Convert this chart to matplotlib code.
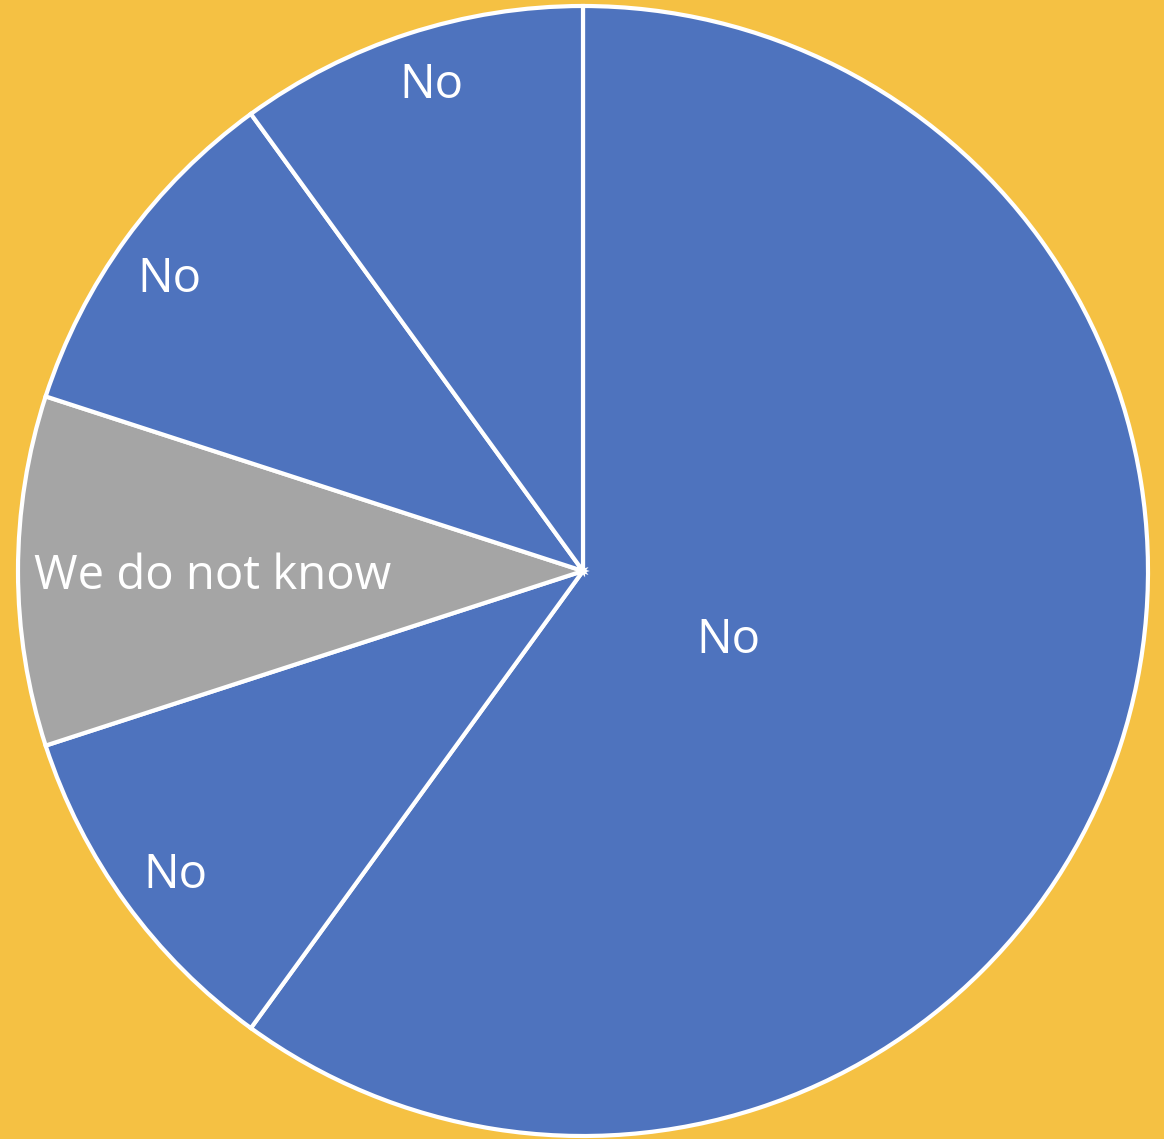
import numpy as np
import matplotlib.pyplot as plt

labels = ["No", "No", "We do not know", "No", "No"]
values = [60, 10, 10, 10, 10]
colors = ["#4E73BE", "#4E73BE", "#A5A5A5", "#4E73BE", "#4E73BE"]

# label radius (fraction of r) and angle nudge in degrees, per slice
label_r = [0.285, 0.90, 0.655, 0.895, 0.90]
label_nudge = [-7.5, 0.8, 0.8, 0.8, -0.7]

bg = "#F5C143"
fig = plt.figure(figsize=(11.64, 11.39), dpi=100, facecolor=bg)
ax = fig.add_axes([18 / 1164, 3 / 1139, 1130 / 1164, 1130 / 1139])
ax.set_facecolor(bg)

wedges, _ = ax.pie(values, colors=colors, startangle=90, counterclock=False,
                   radius=1.0, wedgeprops=dict(edgecolor="white", linewidth=3.0))

for w, lab, r, nd in zip(wedges, labels, label_r, label_nudge):
    ang = np.deg2rad((w.theta1 + w.theta2) / 2 + nd)
    ax.text(r * np.cos(ang), r * np.sin(ang), lab, color="white",
            fontsize=34, family="Open Sans", ha="center", va="center")

ax.set_xlim(-1, 1)
ax.set_ylim(-1, 1)
ax.set_aspect("equal")
ax.axis("off")

fig.savefig("out.png", dpi=100, facecolor=bg)
